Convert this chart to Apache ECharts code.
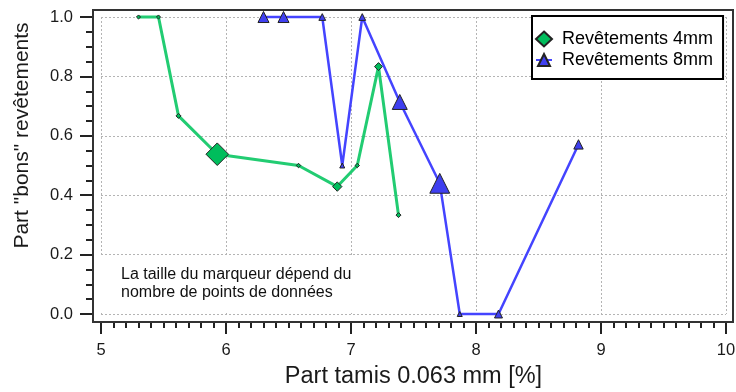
<!DOCTYPE html>
<html>
<head>
<meta charset="utf-8">
<script src="https://cdn.jsdelivr.net/npm/echarts@6/dist/echarts.min.js"></script>
<style>
html,body{margin:0;padding:0;background:#fff;}
#chart{width:736px;height:392px;}
</style>
</head>
<body>
<div id="chart"></div>
<script>
// ---- data ----
const seriesNames = ['Revêtements 4mm', 'Revêtements 8mm'];
const x4mm = [5.30, 5.46, 5.62, 5.93, 6.58, 6.89, 7.05, 7.22, 7.38];
const y4mm = [1.0, 1.0, 0.667, 0.538, 0.5, 0.429, 0.5, 0.833, 0.333];
const n4mm = [1, 1, 3, 13, 2, 7, 2, 6, 3];          // number of data points (marker size)
const x8mm = [6.30, 6.46, 6.77, 6.93, 7.09, 7.39, 7.71, 7.87, 8.18, 8.82];
const y8mm = [1.0, 1.0, 1.0, 0.5, 1.0, 0.714, 0.44, 0.0, 0.0, 0.571];
const n8mm = [8, 8, 5, 3, 5, 10, 12, 3, 6, 7];
const xTitle = 'Part tamis 0.063 mm [%]';
const yTitle = 'Part "bons" revêtements';
const noteText = 'La taille du marqueur dépend du\nnombre de points de données';

const FONT = "'Liberation Sans', Arial, sans-serif";
const size = n => 4 + 0.11 * n * n;
const build = (xs, ys, ns) => xs.map((v, i) => ({ value: [v, ys[i]], symbolSize: size(ns[i]) }));

const chart = echarts.init(document.getElementById('chart'), null, { renderer: 'canvas' });
chart.setOption({
  animation: false,
  backgroundColor: '#fff',
  textStyle: { fontFamily: FONT },
  grid: { left: 101, right: 10, top: 17, bottom: 78, outerBoundsMode: 'none', containLabel: false },
  xAxis: {
    type: 'value', min: 5, max: 10, interval: 1,
    position: 'bottom', offset: 8,
    name: xTitle, nameLocation: 'middle', nameGap: 43,
    nameTextStyle: { fontSize: 23.5, color: '#1a1a1a', fontFamily: FONT },
    axisLine: { show: false, onZero: false },
    axisTick: { show: true, inside: false, length: 12, lineStyle: { color: '#222', width: 2 } },
    minorTick: { show: true, splitNumber: 10, length: 6, lineStyle: { color: '#222', width: 2 } },
    axisLabel: { fontSize: 16.5, color: '#1a1a1a', margin: 20, fontFamily: FONT },
    splitLine: { show: true, lineStyle: { color: '#b4b4b4', width: 1, type: [2, 2] } }
  },
  yAxis: {
    type: 'value', min: 0, max: 1, interval: 0.2,
    position: 'left', offset: 8,
    name: yTitle, nameLocation: 'middle', nameGap: 60,
    nameTextStyle: { fontSize: 21, color: '#1a1a1a', fontFamily: FONT, padding: [0, 0, 0, 60] },
    axisLine: { show: false, onZero: false },
    axisTick: { show: true, inside: false, length: 13, lineStyle: { color: '#222', width: 2 } },
    minorTick: { show: true, splitNumber: 4, length: 7, lineStyle: { color: '#222', width: 2 } },
    axisLabel: { fontSize: 16.5, color: '#1a1a1a', margin: 20, fontFamily: FONT,
      formatter: v => v.toFixed(1) },
    splitLine: { show: true, lineStyle: { color: '#b4b4b4', width: 1, type: [2, 2] } }
  },
  legend: {
    orient: 'vertical', left: 532, top: 16,
    backgroundColor: '#fff', borderColor: '#000', borderWidth: 2,
    padding: [14, 10, 10, 3], itemGap: 3, itemWidth: 16, itemHeight: 15,
    textStyle: { fontSize: 18, color: '#000', fontFamily: FONT, padding: [0, 0, 0, 5] },
    data: [{ name: seriesNames[0], icon: 'diamond' }, { name: seriesNames[1] }],
    z: 20
  },
  graphic: [
    { type: 'rect', z: 1, silent: true,
      shape: { x: 100, y: 256, width: 275, height: 55 },
      style: { fill: '#fff' } },
    { type: 'text', z: 2, silent: true, x: 121, y: 284,
      style: { text: noteText, font: "16px 'Liberation Sans', Arial, sans-serif",
        fill: '#111', lineHeight: 18, verticalAlign: 'middle', align: 'left' } },
    { type: 'rect', z: 30, silent: true,
      shape: { x: 93, y: 10, width: 640, height: 312 },
      style: { fill: 'none', stroke: '#333', lineWidth: 2 } }
  ],
  series: [
    {
      name: seriesNames[0], type: 'line', clip: false, z: 3,
      symbol: 'diamond',
      data: build(x4mm, y4mm, n4mm),
      lineStyle: { color: '#22cc72', width: 3 },
      itemStyle: { color: '#00bd5c', borderColor: '#222', borderWidth: 1 }
    },
    {
      name: seriesNames[1], type: 'line', clip: false, z: 4,
      symbol: 'triangle',
      data: build(x8mm, y8mm, n8mm),
      lineStyle: { color: '#4444ff', width: 2.5 },
      itemStyle: { color: '#3f3ff0', borderColor: '#222', borderWidth: 1 }
    }
  ]
});
</script>
</body>
</html>
